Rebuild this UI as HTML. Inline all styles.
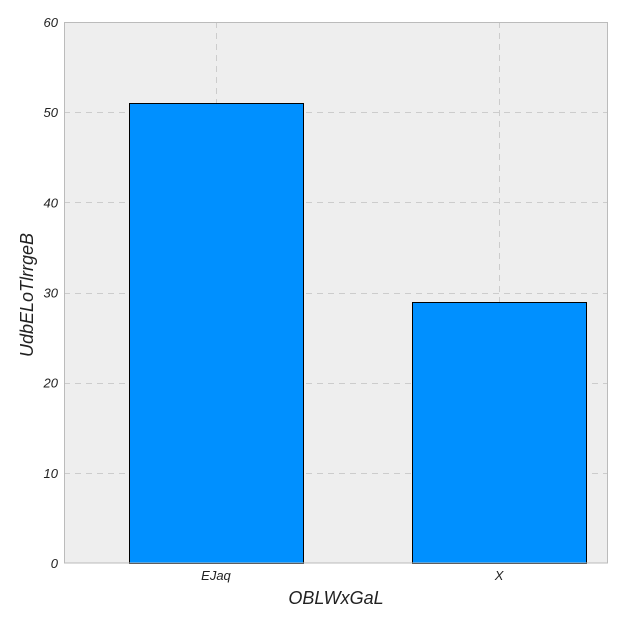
<!DOCTYPE html>
<html><head><meta charset="utf-8"><style>
html,body{margin:0;padding:0;background:#fff;}
svg text{font-family:"Liberation Sans",sans-serif;font-style:italic;fill:#222;}
</style></head><body>
<svg id="chart" width="624" height="624" xmlns="http://www.w3.org/2000/svg">
<rect x="64" y="22" width="544" height="541" fill="#eeeeee"/>
<g id="grid"></g>
<g id="bars"></g>
<rect x="64.5" y="22.5" width="543" height="540.5" fill="none" stroke="#bbbbbb" stroke-width="1"/>
<g id="ticks"></g>
<text x="336" y="604" font-size="18" text-anchor="middle">OBLWxGaL</text>
<text x="0" y="0" font-size="18" text-anchor="middle" transform="translate(33,295) rotate(-90)">UdbELoTlrrgeB</text>
</svg>
<script>
const categories = ["EJaq", "X"];
const values = [51, 29];
const yTicks = [0, 10, 20, 30, 40, 50, 60];

const plotL = 64, plotR = 608, plotT = 22, plotB = 563;
const yMin = 0, yMax = 60;
const xMin = -0.537, xMax = 1.385;
const barW = 0.615;
function yScale(v){ return plotB - (v - yMin) / (yMax - yMin) * (plotB - plotT); }
function xScale(v){ return plotL + (v - xMin) / (xMax - xMin) * (plotR - plotL); }
const NS = "http://www.w3.org/2000/svg";
const grid = document.getElementById('grid');
const bars = document.getElementById('bars');
const ticks = document.getElementById('ticks');

yTicks.forEach(function(t){
  const y = Math.round(yScale(t)) + 0.5;
  if (t > yMin && t < yMax) {
    const l = document.createElementNS(NS, 'line');
    
    
    l.setAttribute('x1', plotL); l.setAttribute('x2', plotR);
    l.setAttribute('y1', y); l.setAttribute('y2', y);
    l.setAttribute('stroke', '#cccccc'); l.setAttribute('stroke-dasharray', '6,5');
    grid.appendChild(l);
  }
  const tx = document.createElementNS(NS, 'text');
  
  
  tx.setAttribute('x', plotL - 6); tx.setAttribute('y', yScale(t) + 5);
  tx.setAttribute('font-size', '13'); tx.setAttribute('text-anchor', 'end');
  tx.textContent = t;
  ticks.appendChild(tx);
});

categories.forEach(function(c, i){
  const cx = xScale(i);
  const gl = document.createElementNS(NS, 'line');
  
  
  gl.setAttribute('x1', Math.round(cx) + 0.5); gl.setAttribute('x2', Math.round(cx) + 0.5);
  gl.setAttribute('y1', plotT); gl.setAttribute('y2', plotB);
  gl.setAttribute('stroke', '#cccccc'); gl.setAttribute('stroke-dasharray', '6,5');
  grid.appendChild(gl);

  const x0 = xScale(i - barW / 2), x1 = xScale(i + barW / 2);
  const r = document.createElementNS(NS, 'rect');
  
  
  r.setAttribute('x', Math.round(x0) + 0.5); r.setAttribute('width', Math.round(x1 - x0));
  r.setAttribute('y', Math.round(yScale(values[i])) + 0.5);
  r.setAttribute('height', plotB - Math.round(yScale(values[i])));
  r.setAttribute('fill', '#0090ff'); r.setAttribute('stroke', '#000'); r.setAttribute('stroke-width', '1');
  bars.appendChild(r);

  const tx = document.createElementNS(NS, 'text');
  
  
  tx.setAttribute('x', cx); tx.setAttribute('y', plotB + 17);
  tx.setAttribute('font-size', '13'); tx.setAttribute('text-anchor', 'middle');
  tx.textContent = c;
  ticks.appendChild(tx);
});
</script>
</body></html>
